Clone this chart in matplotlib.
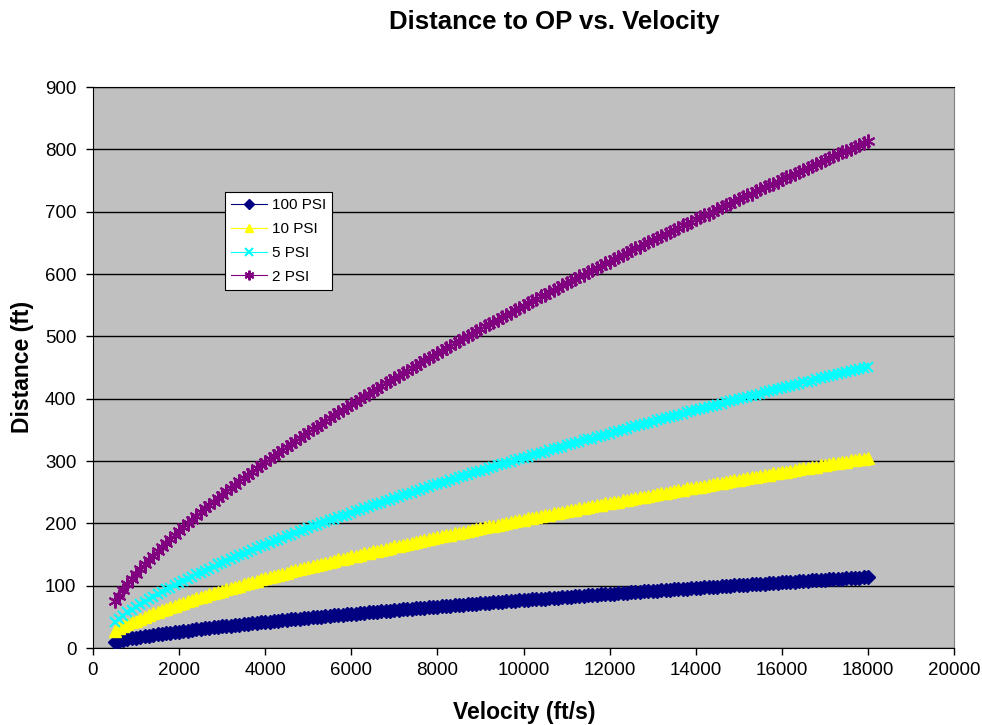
import matplotlib
matplotlib.use("Agg")
import matplotlib.pyplot as plt

plt.rcParams['font.family'] = ['Liberation Sans', 'DejaVu Sans']

# velocity samples (ft/s)
velocity = [
    500, 600, 700, 800, 900, 1000, 1100, 1200, 1300, 1400,
    1500, 1600, 1700, 1800, 1900, 2000, 2100, 2200, 2300, 2400,
    2500, 2600, 2700, 2800, 2900, 3000, 3100, 3200, 3300, 3400,
    3500, 3600, 3700, 3800, 3900, 4000, 4100, 4200, 4300, 4400,
    4500, 4600, 4700, 4800, 4900, 5000, 5100, 5200, 5300, 5400,
    5500, 5600, 5700, 5800, 5900, 6000, 6100, 6200, 6300, 6400,
    6500, 6600, 6700, 6800, 6900, 7000, 7100, 7200, 7300, 7400,
    7500, 7600, 7700, 7800, 7900, 8000, 8100, 8200, 8300, 8400,
    8500, 8600, 8700, 8800, 8900, 9000, 9100, 9200, 9300, 9400,
    9500, 9600, 9700, 9800, 9900, 10000, 10100, 10200, 10300, 10400,
    10500, 10600, 10700, 10800, 10900, 11000, 11100, 11200, 11300, 11400,
    11500, 11600, 11700, 11800, 11900, 12000, 12100, 12200, 12300, 12400,
    12500, 12600, 12700, 12800, 12900, 13000, 13100, 13200, 13300, 13400,
    13500, 13600, 13700, 13800, 13900, 14000, 14100, 14200, 14300, 14400,
    14500, 14600, 14700, 14800, 14900, 15000, 15100, 15200, 15300, 15400,
    15500, 15600, 15700, 15800, 15900, 16000, 16100, 16200, 16300, 16400,
    16500, 16600, 16700, 16800, 16900, 17000, 17100, 17200, 17300, 17400,
    17500, 17600, 17700, 17800, 17900, 18000,
]

# distance (ft) for each overpressure level
dist_100psi = [
    10.4, 11.8, 13.1, 14.3, 15.4, 16.6, 17.7, 18.7, 19.7, 20.7,
    21.7, 22.7, 23.6, 24.5, 25.4, 26.3, 27.2, 28.0, 28.9, 29.7,
    30.5, 31.3, 32.1, 32.9, 33.7, 34.5, 35.2, 36.0, 36.7, 37.5,
    38.2, 38.9, 39.6, 40.4, 41.1, 41.8, 42.4, 43.1, 43.8, 44.5,
    45.2, 45.8, 46.5, 47.2, 47.8, 48.5, 49.1, 49.7, 50.4, 51.0,
    51.6, 52.3, 52.9, 53.5, 54.1, 54.7, 55.3, 55.9, 56.5, 57.1,
    57.7, 58.3, 58.9, 59.5, 60.1, 60.6, 61.2, 61.8, 62.4, 62.9,
    63.5, 64.1, 64.6, 65.2, 65.7, 66.3, 66.8, 67.4, 67.9, 68.5,
    69.0, 69.6, 70.1, 70.6, 71.2, 71.7, 72.2, 72.8, 73.3, 73.8,
    74.3, 74.8, 75.4, 75.9, 76.4, 76.9, 77.4, 77.9, 78.4, 78.9,
    79.4, 79.9, 80.4, 81.0, 81.5, 82.0, 82.4, 82.9, 83.4, 83.9,
    84.4, 84.9, 85.4, 85.9, 86.4, 86.9, 87.3, 87.8, 88.3, 88.8,
    89.2, 89.7, 90.2, 90.7, 91.1, 91.6, 92.1, 92.5, 93.0, 93.5,
    93.9, 94.4, 94.9, 95.3, 95.8, 96.3, 96.7, 97.2, 97.6, 98.1,
    98.5, 99.0, 99.4, 99.9, 100.3, 100.8, 101.2, 101.7, 102.1, 102.6,
    103.0, 103.4, 103.9, 104.3, 104.8, 105.2, 105.7, 106.1, 106.5, 107.0,
    107.4, 107.8, 108.3, 108.7, 109.1, 109.6, 110.0, 110.4, 110.8, 111.3,
    111.7, 112.1, 112.5, 113.0, 113.4, 113.8,
]

dist_10psi = [
    28, 32, 35, 38, 41, 44, 47, 50, 53, 56,
    58, 61, 63, 66, 68, 71, 73, 75, 77, 80,
    82, 84, 86, 88, 90, 92, 94, 96, 98, 100,
    102, 104, 106, 108, 110, 112, 114, 116, 117, 119,
    121, 123, 125, 126, 128, 130, 132, 133, 135, 137,
    138, 140, 142, 143, 145, 147, 148, 150, 152, 153,
    155, 156, 158, 159, 161, 163, 164, 166, 167, 169,
    170, 172, 173, 175, 176, 178, 179, 181, 182, 184,
    185, 186, 188, 189, 191, 192, 194, 195, 196, 198,
    199, 201, 202, 203, 205, 206, 208, 209, 210, 212,
    213, 214, 216, 217, 218, 220, 221, 222, 224, 225,
    226, 228, 229, 230, 232, 233, 234, 235, 237, 238,
    239, 240, 242, 243, 244, 246, 247, 248, 249, 251,
    252, 253, 254, 256, 257, 258, 259, 260, 262, 263,
    264, 265, 267, 268, 269, 270, 271, 273, 274, 275,
    276, 277, 278, 280, 281, 282, 283, 284, 286, 287,
    288, 289, 290, 291, 293, 294, 295, 296, 297, 298,
    299, 301, 302, 303, 304, 305,
]

dist_5psi = [
    41, 47, 52, 57, 61, 66, 70, 74, 78, 82,
    86, 90, 94, 97, 101, 104, 108, 111, 114, 118,
    121, 124, 127, 130, 134, 137, 140, 143, 146, 149,
    151, 154, 157, 160, 163, 166, 168, 171, 174, 176,
    179, 182, 184, 187, 189, 192, 195, 197, 200, 202,
    205, 207, 210, 212, 214, 217, 219, 222, 224, 226,
    229, 231, 233, 236, 238, 240, 243, 245, 247, 249,
    252, 254, 256, 258, 261, 263, 265, 267, 269, 271,
    274, 276, 278, 280, 282, 284, 286, 288, 290, 293,
    295, 297, 299, 301, 303, 305, 307, 309, 311, 313,
    315, 317, 319, 321, 323, 325, 327, 329, 331, 333,
    335, 336, 338, 340, 342, 344, 346, 348, 350, 352,
    354, 356, 357, 359, 361, 363, 365, 367, 369, 370,
    372, 374, 376, 378, 380, 382, 383, 385, 387, 389,
    390, 392, 394, 396, 398, 399, 401, 403, 405, 406,
    408, 410, 412, 414, 415, 417, 419, 420, 422, 424,
    426, 427, 429, 431, 433, 434, 436, 438, 439, 441,
    443, 444, 446, 448, 449, 451,
]

dist_2psi = [
    75, 84, 93, 102, 110, 118, 126, 134, 141, 148,
    155, 162, 169, 175, 182, 188, 194, 200, 206, 212,
    218, 224, 230, 235, 241, 246, 252, 257, 262, 268,
    273, 278, 283, 288, 293, 298, 303, 308, 313, 318,
    323, 327, 332, 337, 341, 346, 351, 355, 360, 364,
    369, 373, 378, 382, 386, 391, 395, 399, 404, 408,
    412, 416, 421, 425, 429, 433, 437, 441, 445, 449,
    453, 458, 462, 466, 469, 473, 477, 481, 485, 489,
    493, 497, 501, 504, 508, 512, 516, 520, 523, 527,
    531, 535, 538, 542, 546, 549, 553, 557, 560, 564,
    567, 571, 575, 578, 582, 585, 589, 592, 596, 599,
    603, 606, 610, 613, 617, 620, 624, 627, 631, 634,
    638, 641, 644, 648, 651, 654, 658, 661, 664, 668,
    671, 674, 678, 681, 684, 688, 691, 694, 697, 700,
    704, 707, 710, 713, 717, 720, 723, 726, 729, 733,
    736, 739, 742, 745, 748, 752, 755, 758, 761, 764,
    767, 770, 773, 776, 779, 783, 786, 789, 792, 795,
    798, 801, 804, 807, 810, 813,
]

labels = ["100 PSI", "10 PSI", "5 PSI", "2 PSI"]

fig = plt.figure(figsize=(9.82, 7.25), dpi=100)
ax = fig.add_axes([0.0947, 0.1062, 0.8768, 0.7738])
ax.set_facecolor("#C0C0C0")

ax.plot(velocity, dist_100psi, color="#000080", lw=0.8, marker="D", ms=6.8,
        mec="#000080", mfc="#000080", label=labels[0], zorder=3)
ax.plot(velocity, dist_10psi, color="#FFFF00", lw=0.8, marker="^", ms=8.5,
        mec="#FFFF00", mfc="#FFFF00", label=labels[1], zorder=3)
ax.plot(velocity, dist_5psi, color="#00FFFF", lw=0.8, marker="x", ms=7.5,
        mew=1.5, mec="#00FFFF", label=labels[2], zorder=3)
ax.plot(velocity, dist_2psi, color="#800080", lw=0.8, marker=(6, 2, 0), ms=10,
        mew=1.5, mec="#800080", label=labels[3], zorder=3)

ax.set_xlim(0, 20000)
ax.set_ylim(0, 900)
ax.set_xticks(range(0, 20001, 2000))
ax.set_yticks(range(0, 901, 100))
ax.yaxis.grid(True, color="black", lw=1)
ax.set_axisbelow(True)

ax.spines["right"].set_color("#808080")
for side in ("top", "left", "bottom"):
    ax.spines[side].set_color("black")
ax.tick_params(axis="both", direction="out", length=5, width=1, colors="black",
               labelsize=13.5)
ax.tick_params(axis="x", pad=5)
ax.tick_params(axis="y", pad=7)

# axis titles and chart title placed in figure coordinates
fig.text(524 / 982, 1 - 712 / 725, "Velocity (ft/s)", ha="center", va="center",
         fontsize=16.5, fontweight="bold")
fig.text(23 / 982, 1 - 367 / 725, "Distance (ft)", ha="center", va="center",
         rotation=90, fontsize=16.5, fontweight="bold")
fig.text(554 / 982, 1 - 22 / 725, "Distance to OP vs. Velocity", ha="center",
         va="center", fontsize=18.5, fontweight="bold")

leg = ax.legend(loc="upper left", bbox_to_anchor=(0.1533, 0.8128),
                borderaxespad=0, fontsize=11, frameon=True, fancybox=False,
                edgecolor="black", facecolor="white", framealpha=1,
                handlelength=2.3, handletextpad=0.33, borderpad=0.42,
                labelspacing=0.64, markerscale=0.7)
leg.get_frame().set_linewidth(0.8)

fig.savefig("out.png", dpi=100)
